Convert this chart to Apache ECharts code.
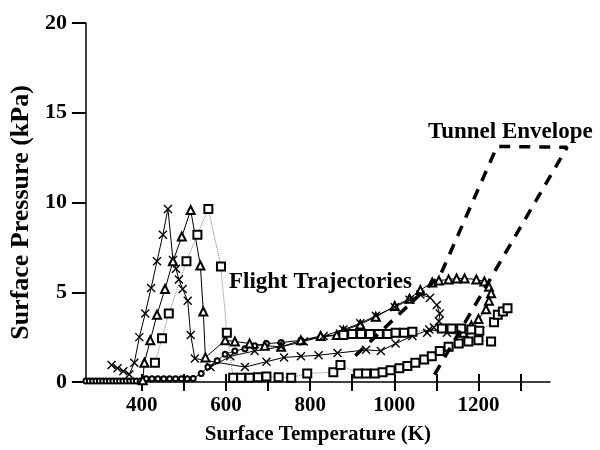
<!DOCTYPE html>
<html>
<head>
<meta charset="utf-8">
<script src="https://cdn.jsdelivr.net/npm/echarts@6/dist/echarts.min.js"></script>
<style>html,body{margin:0;padding:0;background:#fff}#c{width:600px;height:450px}</style>
</head>
<body>
<div id="c"></div>
<script>
// ---- data (Surface Temperature K, Surface Pressure kPa) ----
const xTickValues = [400, 500, 600, 700, 800, 900, 1000, 1100, 1200, 1300];
const xLabelValues = [400, 600, 800, 1000, 1200];

const crossPeakTraj = [[328,0.95],[342,0.77],[356,0.6],[370,0.42],[382,1.07],[394,2.5],[408,3.81],[422,5.24],[436,6.73],[450,8.21],[462,9.64],[474,6.79],[481,6.31],[488,5.71],[497,5.18],[509,4.52],[516,2.62],[526,1.31],[645,0.83],[696,1.13],[738,1.37],[778,1.43],[820,1.49],[865,1.61],[933,1.79],[968,1.73],[1003,2.14],[1043,2.56],[1083,2.92],[1125,2.74],[1172,2.6]];

const triangleTraj = [[402,0.1],[406,1.07],[420,2.32],[436,3.75],[455,5.18],[474,6.73],[495,8.1],[516,9.58],[539,6.49],[546,3.93],[551,1.37],[598,2.32],[621,2.26],[656,2.14],[692,2.02],[731,1.96],[778,2.32],[825,2.56],[863,2.62],[879,2.86],[919,3.21],[956,3.63],[1001,4.23],[1036,4.64],[1062,5.12],[1090,5.54],[1106,5.65],[1129,5.71],[1148,5.77],[1167,5.77],[1195,5.71],[1214,5.6],[1225,5.3],[1230,4.94],[1225,4.52],[1218,4.05],[1200,3.51],[1183,3.15],[1164,2.74]];

const squarePeakTraj = [[431,1.07],[448,2.44],[464,3.81],[506,6.73],[532,8.21],[558,9.64],[588,6.43],[602,2.74],[617,0.24],[636,0.24],[656,0.24],[676,0.27],[696,0.3],[725,0.27],[755,0.24],[793,0.48],[855,0.54],[872,0.95],[914,0.48],[933,0.48],[954,0.48],[972,0.54],[991,0.65],[1012,0.77],[1031,0.89],[1050,1.07],[1071,1.25],[1089,1.43],[1108,1.73],[1129,1.96],[1153,2.14],[1176,2.26],[1200,2.32],[1230,2.26]];

const circleTraj = [[267,0.05],[275,0.05],[283,0.05],[291,0.05],[299,0.05],[307,0.05],[315,0.05],[323,0.05],[331,0.05],[339,0.05],[347,0.05],[355,0.05],[363,0.05],[371,0.05],[379,0.05],[387,0.05],[396,0.05],[410,0.18],[424,0.18],[438,0.18],[452,0.18],[466,0.18],[480,0.18],[494,0.18],[508,0.18],[522,0.2],[541,0.48],[557,0.83],[579,1.19],[598,1.55],[621,1.73],[645,1.85],[668,2.02],[696,2.14],[731,2.2],[778,2.32],[825,2.5],[868,2.62]];

const crossLoopTraj = [[563,0.83],[610,1.43],[668,1.73],[731,1.96],[785,2.26],[832,2.56],[879,2.92],[919,3.27],[956,3.69],[1001,4.17],[1036,4.58],[1062,4.88],[1085,4.7],[1101,4.29],[1108,3.81],[1106,3.39],[1094,3.04],[1078,2.74]];

const squareMidTraj = [[879,2.62],[900,2.68],[921,2.68],[942,2.68],[963,2.68],[984,2.68],[1003,2.74],[1023,2.74],[1043,2.8],[1113,2.98],[1136,2.98],[1159,2.98],[1183,2.92],[1202,2.86],[1237,3.33],[1246,3.75],[1258,3.93],[1269,4.11]];

const tunnelEnvelope = [[914,1.67],[1113,6.1],[1246,13.2],[1410,13.15],[1096,0.48],[1090,0.2]];

const crossSymbol = 'path://M0,0L10,10M10,0L0,10';
const fontFam = '"Liberation Serif","Times New Roman",serif';

// main plot geometry
const xMin = 267, xMax = 1370, gridLeft = 79, gridRight = 50, gridTop = 23, gridBottom = 64;
const plotW = 600 - gridLeft - gridRight;
// overlay grid (same scale) wide enough for the envelope corner
const overlayRight = 15;
const overlayW = 600 - gridLeft - overlayRight;
const xMaxOverlay = xMin + (xMax - xMin) * overlayW / plotW;

const chart = echarts.init(document.getElementById('c'));
function traj(data, symbol, size, lineType, lineColor) {
  return {
    type: 'line', data: data, symbol: symbol, symbolSize: size,
    showAllSymbol: true, animation: false,
    lineStyle: { color: lineColor || '#000', width: 1, type: lineType || 'solid' },
    itemStyle: { color: '#000', borderColor: '#000', borderWidth: 1.2 },
    emphasis: { disabled: true }
  };
}
const crossStyle = { color: 'rgba(0,0,0,0)', borderColor: '#000', borderWidth: 1.4 };
const s1 = traj(crossPeakTraj, crossSymbol, 8); s1.itemStyle = crossStyle;
const s5 = traj(crossLoopTraj, crossSymbol, 8); s5.itemStyle = crossStyle;

chart.setOption({
  animation: false,
  grid: [
    { left: gridLeft, right: gridRight, top: gridTop, bottom: gridBottom },
    { left: gridLeft, right: overlayRight, top: gridTop, bottom: gridBottom }
  ],
  xAxis: [{
    gridIndex: 0, type: 'value', min: xMin, max: xMax,
    name: 'Surface Temperature (K)', nameLocation: 'middle', nameGap: 42,
    nameTextStyle: { fontFamily: fontFam, fontWeight: 'bold', fontSize: 21, color: '#000' },
    axisLine: { lineStyle: { color: '#000', width: 1.5 } },
    axisTick: { show: true, length: 9, customValues: xTickValues, lineStyle: { color: '#000', width: 2 } },
    axisLabel: { customValues: xLabelValues, formatter: v => String(v), margin: 13, fontFamily: fontFam, fontWeight: 'bold', fontSize: 21, color: '#000' },
    splitLine: { show: false }
  }, {
    gridIndex: 0, type: 'value', min: xMin, max: xMax, position: 'bottom',
    axisLine: { show: false },
    axisTick: { show: true, inside: true, length: 8, customValues: xTickValues, lineStyle: { color: '#000', width: 2 } },
    axisLabel: { show: false },
    splitLine: { show: false }
  }, {
    gridIndex: 1, type: 'value', min: xMin, max: xMaxOverlay, show: false
  }],
  yAxis: [{
    gridIndex: 0, type: 'value', min: 0, max: 20, interval: 5,
    name: 'Surface Pressure (kPa)', nameLocation: 'middle', nameGap: 44,
    nameTextStyle: { fontFamily: fontFam, fontWeight: 'bold', fontSize: 26, color: '#000', padding: [0, 20, 0, 0] },
    axisLine: { show: true, lineStyle: { color: '#000', width: 1.5 } },
    axisTick: { show: true, length: 14, lineStyle: { color: '#000', width: 2 } },
    axisLabel: { margin: 19, fontFamily: fontFam, fontWeight: 'bold', fontSize: 22, color: '#000' },
    splitLine: { show: false }
  }, {
    gridIndex: 1, type: 'value', min: 0, max: 20, show: false
  }],
  graphic: [
    { type: 'text', left: 229, top: 271, style: { text: 'Flight Trajectories', font: 'bold 23px ' + fontFam, fill: '#000' } },
    { type: 'text', left: 428, top: 121, style: { text: 'Tunnel Envelope', font: 'bold 23px ' + fontFam, fill: '#000' } }
  ],
  series: [
    traj(circleTraj, 'emptyCircle', 5),
    s1,
    traj(triangleTraj, 'emptyTriangle', 8),
    s5,
    traj(squarePeakTraj, 'emptyRect', 8, 'dotted', '#777'),
    traj(squareMidTraj, 'emptyRect', 8, 'dotted', '#777'),
    {
      type: 'line', xAxisIndex: 2, yAxisIndex: 1, data: tunnelEnvelope, symbol: 'none', animation: false,
      lineStyle: { color: '#000', width: 3.5, type: [11, 9] }, z: 5
    }
  ]
});
</script>
</body>
</html>
